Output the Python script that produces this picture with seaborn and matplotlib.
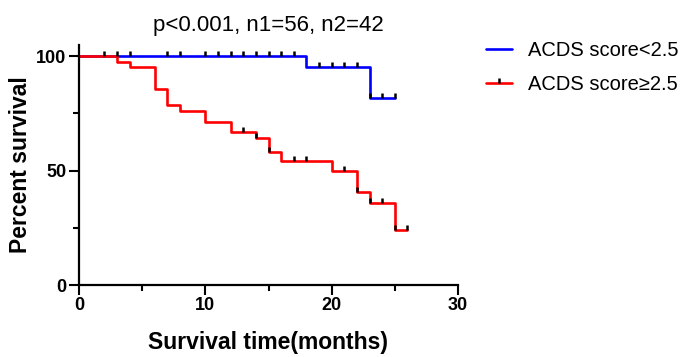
import matplotlib
matplotlib.use("Agg")
import matplotlib.pyplot as plt
from matplotlib.path import Path
from matplotlib.lines import Line2D
from matplotlib.ticker import MultipleLocator
import numpy as np
import pandas as pd
import seaborn as sns

# ---- data ----
group_labels = ["ACDS score<2.5", "ACDS score\u22652.5"]
blue_times = [0, 18, 23, 25]
blue_surv = [100, 95.2, 81.6, 81.6]
blue_censor = [2, 3, 4, 7, 8, 10, 11, 12, 13, 14, 15, 16, 17, 19, 20, 21, 22, 23, 24, 25]
red_times = [0, 3, 4, 6, 7, 8, 10, 12, 14, 15, 16, 20, 22, 23, 25, 26]
red_surv = [100, 97.6, 95.2, 85.7, 78.6, 76.2, 71.4, 66.7, 64.2, 57.9, 54.1, 49.8, 40.5, 35.9, 24.0, 24.0]
red_censor = [13, 14, 15, 17, 18, 21, 22, 23, 24, 25, 26]
title_text = "p<0.001, n1=56, n2=42"
colors = ["#0000FF", "#FF0000"]

sns.set_theme(style="ticks")
plt.rcParams["font.family"] = ["Liberation Sans", "DejaVu Sans"]
plt.rcParams["text.color"] = "black"
plt.rcParams["axes.labelcolor"] = "black"
plt.rcParams["xtick.color"] = "black"
plt.rcParams["ytick.color"] = "black"


def step_value(times, surv, t):
    idx = max(i for i, tt in enumerate(times) if tt <= t)
    return surv[idx]


curve_df = pd.concat([
    pd.DataFrame({"time": blue_times, "surv": blue_surv, "group": group_labels[0]}),
    pd.DataFrame({"time": red_times, "surv": red_surv, "group": group_labels[1]}),
])
cens_df = pd.concat([
    pd.DataFrame({"time": blue_censor,
                  "surv": [step_value(blue_times, blue_surv, t) for t in blue_censor],
                  "group": group_labels[0]}),
    pd.DataFrame({"time": red_censor,
                  "surv": [step_value(red_times, red_surv, t) for t in red_censor],
                  "group": group_labels[1]}),
])

fig = plt.figure(figsize=(6.85, 3.57), dpi=100)
ax = fig.add_axes([79 / 685, 72 / 357, (458 - 79) / 685, (285 - 44.6) / 357])

sns.lineplot(data=curve_df, x="time", y="surv", hue="group", palette=colors,
             hue_order=group_labels, drawstyle="steps-post", estimator=None,
             linewidth=1.9, ax=ax, legend=False)

tick_marker = Path([(0, 0), (0, 1)])
ax.scatter(cens_df["time"], cens_df["surv"], marker=tick_marker, s=50,
           color="black", linewidths=1.8, zorder=5)

ax.set_xlim(0, 30)
ax.set_ylim(0, 105)
ax.xaxis.set_major_locator(MultipleLocator(10))
ax.xaxis.set_minor_locator(MultipleLocator(5))
ax.yaxis.set_major_locator(MultipleLocator(50))
ax.yaxis.set_minor_locator(MultipleLocator(25))
ax.tick_params(which="major", length=7, width=1.5, labelsize=13, colors="black", pad=2)
ax.tick_params(which="minor", length=4, width=1.5)
for lbl in ax.get_xticklabels() + ax.get_yticklabels():
    lbl.set_fontweight("bold")
for side in ["left", "bottom"]:
    ax.spines[side].set_linewidth(1.6)
    ax.spines[side].set_color("black")
sns.despine(ax=ax)

ax.set_xlabel("Survival time(months)", fontsize=16.5, fontweight="bold", labelpad=12)
ax.set_ylabel("Percent survival", fontsize=16.5, fontweight="bold", labelpad=3)
ax.set_title(title_text, fontsize=16, pad=10)

handles = [
    Line2D([], [], color=colors[0], linewidth=1.9),
    Line2D([], [], color=colors[1], linewidth=1.9, marker=tick_marker,
           markersize=7, markeredgecolor="black", markeredgewidth=1.8),
]
fig.legend(handles, group_labels, loc="upper left", bbox_to_anchor=(478 / 685, 1 - 33 / 357),
           frameon=False, fontsize=14.5, handlelength=1.3, handletextpad=0.8,
           labelspacing=0.75, borderaxespad=0)

fig.savefig("out.png", dpi=100)
